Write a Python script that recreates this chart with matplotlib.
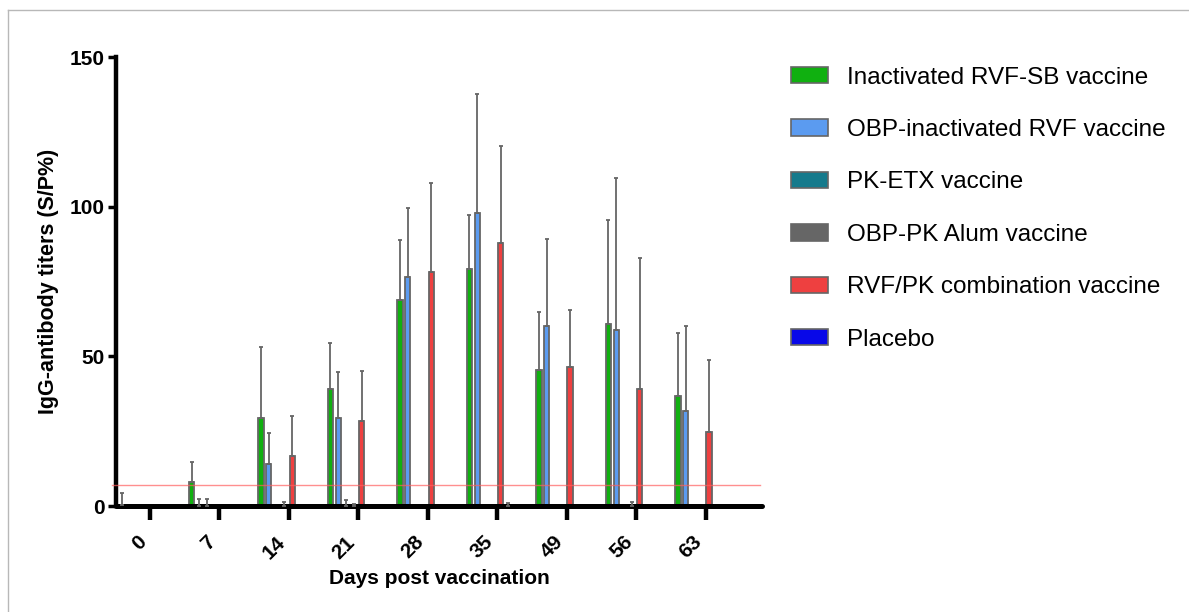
import numpy as np
import matplotlib
matplotlib.use("Agg")
import matplotlib.pyplot as plt
from matplotlib.lines import Line2D
from matplotlib.patches import Patch
import matplotlib.transforms as mtransforms

plt.rcParams['font.family'] = ['Liberation Sans', 'DejaVu Sans']

# Dane (srednia i odchylenie w gore)
days = ["0", "7", "14", "21", "28", "35", "49", "56", "63"]
groups = ["Inactivated RVF-SB vaccine", "OBP-inactivated RVF vaccine", "PK-ETX vaccine",
          "OBP-PK Alum vaccine", "RVF/PK combination vaccine", "Placebo"]
colors = ["#10b010", "#5b9bf0", "#157a8c", "#666666", "#ee4040", "#0808e8"]

rvf_sb_mean = [0.5, 8.0, 29.5, 39.0, 68.7, 79.1, 45.4, 60.7, 36.8]
rvf_sb_sd = [4.0, 6.6, 23.7, 15.5, 20.1, 18.0, 19.5, 34.9, 21.1]
obp_rvf_mean = [0, 0, 14.1, 29.5, 76.6, 98.0, 60.1, 58.7, 31.7]
obp_rvf_sd = [0, 2.5, 10.4, 15.3, 23.1, 39.5, 29.2, 51.0, 28.3]
pk_etx_mean = [0, 0, 0, 0, 0, 0, 0, 0, 0]
pk_etx_sd = [0, 2.5, 0, 1.9, 0, 0, 0, 0, 0]
obp_pk_mean = [0, 0, 0, 0, 0, 0, 0, 0, 0]
obp_pk_sd = [0, 0, 1.4, 0.8, 0, 0, 0, 1.4, 0]
combo_mean = [0, 0, 16.7, 28.4, 78.1, 87.8, 46.6, 39.0, 24.7]
combo_sd = [0, 0, 13.3, 16.7, 29.9, 32.5, 19.0, 44.0, 24.1]
placebo_mean = [0, 0, 0, 0, 0, 0, 0, 0, 0]
placebo_sd = [0, 0, 0, 0, 0, 1.1, 0, 0, 0]
cutoff = 7

means = [rvf_sb_mean, obp_rvf_mean, pk_etx_mean, obp_pk_mean, combo_mean, placebo_mean]
sds = [rvf_sb_sd, obp_rvf_sd, pk_etx_sd, obp_pk_sd, combo_sd, placebo_sd]

fig = plt.figure(figsize=(11.89, 6.12), dpi=100)
ax = fig.add_axes([116 / 1189, 106 / 612, 646 / 1189, 449 / 612])

x = np.arange(len(days))
step = 0.112
width = 0.075
for j, (m, s) in enumerate(zip(means, sds)):
    pos = x + j * step
    ax.bar(pos, m, width, color=colors[j], edgecolor="#666666", linewidth=1.3, zorder=2)
    m = np.array(m)
    s = np.array(s)
    mask = s > 0
    ax.errorbar(pos[mask], m[mask], yerr=[np.zeros(mask.sum()), s[mask]], fmt="none",
                ecolor="#666666", elinewidth=1.3, capsize=1.5, capthick=1.3, zorder=3)

# linia odciecia
ax.plot([-0.145, 9.18], [cutoff, cutoff], color="#ff6060", lw=1, alpha=0.7, zorder=4, clip_on=False)

ax.set_xlim(-0.087, 9.21)
ax.set_ylim(0, 150)
ax.set_yticks([0, 50, 100, 150])
ax.set_xticks(x + 0.40)
ax.set_xticklabels(days, rotation=45, ha="right", va="top", fontsize=15, fontweight="bold")
offset = mtransforms.ScaledTranslation(0.05, 0, fig.dpi_scale_trans)
for lab in ax.get_xticklabels():
    lab.set_transform(lab.get_transform() + offset)
for lab in ax.get_yticklabels():
    lab.set_fontsize(15)
    lab.set_fontweight("bold")

ax.spines["top"].set_visible(False)
ax.spines["right"].set_visible(False)
ax.spines["left"].set_linewidth(3.2)
ax.spines["bottom"].set_linewidth(3.6)
ax.spines["bottom"].set_capstyle("round")
ax.tick_params(axis="y", length=6, width=2.5, pad=2)
ax.tick_params(axis="x", length=10, width=3.2, pad=9)

ax.set_xlabel("Days post vaccination", fontsize=15, fontweight="bold", labelpad=5)
ax.set_ylabel("IgG-antibody titers (S/P%)", fontsize=15.5, fontweight="bold", labelpad=8)

handles = [Patch(facecolor=c, edgecolor="#666666", linewidth=1.2) for c in colors]
fig.legend(handles, groups, loc="upper left", bbox_to_anchor=(781 / 1189, 1 - 57 / 612),
           frameon=False, fontsize=17.5, handlelength=1.55, handleheight=0.66,
           labelspacing=1.25, handletextpad=0.78, borderaxespad=0)

# ramka obrazka
fig.add_artist(Line2D([8 / 1189, 1], [1 - 10 / 612, 1 - 10 / 612], color="#b8b8b8", lw=1))
fig.add_artist(Line2D([8 / 1189, 8 / 1189], [0, 1 - 10 / 612], color="#b8b8b8", lw=1))

fig.savefig("out.png", dpi=100)
